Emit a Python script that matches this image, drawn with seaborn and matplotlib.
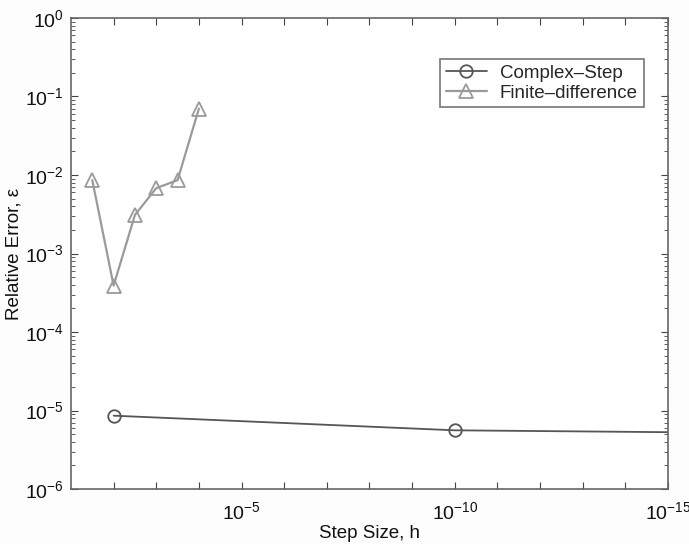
import matplotlib
matplotlib.use("Agg")
import matplotlib.pyplot as plt
import matplotlib.ticker as mticker
import numpy as np
import pandas as pd
import seaborn as sns

# step sizes and relative errors
cs_h = [1e-2, 1e-10, 1e-15]
cs_err = [8.6e-6, 5.6e-6, 5.3e-6]

fd_h = [10 ** -1.5, 1e-2, 10 ** -2.5, 1e-3, 10 ** -3.5, 1e-4]
fd_err = [8.6e-3, 3.9e-4, 3.1e-3, 6.8e-3, 8.6e-3, 7.0e-2]

x_ticks = [1e-5, 1e-10, 1e-15]
y_ticks = [1e-6, 1e-5, 1e-4, 1e-3, 1e-2, 1e-1, 1e0]

sns.set_style("ticks")
plt.rcParams['font.family'] = ['Liberation Sans', 'DejaVu Sans']
plt.rcParams['mathtext.fontset'] = 'custom'
plt.rcParams['mathtext.rm'] = 'Liberation Sans'
plt.rcParams['mathtext.it'] = 'Liberation Sans'

cs = pd.DataFrame({'h': cs_h, 'err': cs_err})
fd = pd.DataFrame({'h': fd_h, 'err': fd_err})

fig = plt.figure(figsize=(6.89, 5.44), dpi=100)
ax = fig.add_axes([0.103, 0.101, 0.8665, 0.866])

sns.lineplot(data=cs, x='h', y='err', ax=ax, color='#555555', linewidth=1.3,
             marker='o', markersize=9, markerfacecolor='none', markeredgecolor='#555555',
             markeredgewidth=1.3, markevery=[0, 1], label='Complex\u2013Step',
             sort=False, estimator=None)
sns.lineplot(data=fd, x='h', y='err', ax=ax, color='#9a9a9a', linewidth=1.6,
             marker='^', markersize=10, markerfacecolor='none', markeredgecolor='#9a9a9a',
             markeredgewidth=1.3, label='Finite\u2013difference',
             sort=False, estimator=None)

ax.set_xscale('log')
ax.set_yscale('log')
ax.set_xlim(1e-1, 1e-15)
ax.set_ylim(1e-6, 1e0)


def decade_label(v, p, keep=None):
    k = int(round(np.log10(v)))
    if keep is not None and all(abs(k - np.log10(t)) > 1e-6 for t in keep):
        return ''
    return f'$10^{{{k}}}$'


ax.xaxis.set_major_locator(mticker.FixedLocator([10.0 ** -k for k in range(2, 16)]))
ax.xaxis.set_minor_locator(mticker.NullLocator())
ax.xaxis.set_major_formatter(mticker.FuncFormatter(lambda v, p: decade_label(v, p, x_ticks)))
ax.yaxis.set_major_locator(mticker.FixedLocator(y_ticks))
ax.yaxis.set_minor_locator(mticker.LogLocator(base=10, subs=np.arange(2, 10), numticks=20))
ax.yaxis.set_minor_formatter(mticker.NullFormatter())
ax.yaxis.set_major_formatter(mticker.FuncFormatter(decade_label))

ax.tick_params(which='both', direction='in', top=True, right=True, colors='#444444',
               labelcolor='#111111', labelsize=14)
ax.tick_params(which='major', length=5)
ax.tick_params(which='minor', length=3)
ax.tick_params(axis='x', pad=9)
ax.tick_params(axis='y', pad=5)
for s in ax.spines.values():
    s.set_color('#666666')
    s.set_linewidth(1.2)

ax.set_xlabel('Step Size, h', fontsize=13.5, color='#111111', labelpad=1)
ax.set_ylabel('Relative Error, \u03b5', fontsize=13.5, color='#111111', labelpad=2)

leg = ax.legend(loc='upper right', bbox_to_anchor=(0.959, 0.913), frameon=True,
                fancybox=False, edgecolor='#555555', fontsize=13.5, handlelength=2.2,
                borderpad=0.3, labelspacing=0.15, handletextpad=0.7, borderaxespad=0)
leg.get_frame().set_linewidth(1.2)

fig.savefig('out.png', dpi=100, facecolor='#fdfdfd')
